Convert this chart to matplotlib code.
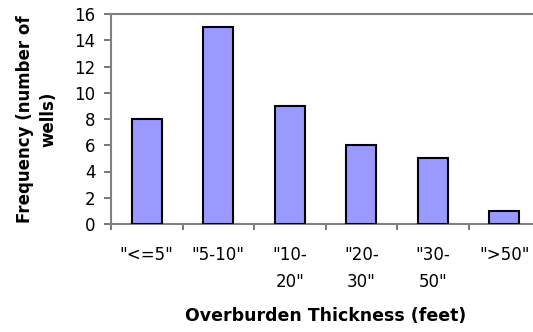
import matplotlib.pyplot as plt
import numpy as np

categories = ['"<=5"', '"5-10"', '"10-\n20"', '"20-\n30"', '"30-\n50"', '">50"']
frequency = [8, 15, 9, 6, 5, 1]
y_ticks = [0, 2, 4, 6, 8, 10, 12, 14, 16]

plt.rcParams['font.family'] = ['DejaVu Sans']

fig = plt.figure(figsize=(5.33, 3.32), dpi=100)
# axes runs slightly past the right edge, as in the original
ax = fig.add_axes([111 / 533, 1 - 224 / 332, 429 / 533, 210 / 332])

x = np.arange(len(categories))
ax.bar(x, frequency, width=0.42, color='#9999FF', edgecolor='black', linewidth=1.5, zorder=3)

ax.set_xlim(-0.5, len(categories) - 0.5)
ax.set_ylim(0, 16)
ax.set_yticks(y_ticks)
ax.set_yticklabels([str(v) for v in y_ticks], fontsize=12)

# category boundary ticks on x, labels centred under the bars
ax.set_xticks(np.arange(len(categories) + 1) - 0.5)
ax.set_xticklabels([])
ax.set_xticks(x, minor=True)
ax.set_xticklabels(categories, minor=True, fontsize=12, linespacing=1.6, va='top')
ax.tick_params(axis='x', which='minor', length=0, pad=16)
ax.tick_params(axis='x', which='major', length=4.5, width=1.2, color='#606060', direction='out')
ax.tick_params(axis='y', length=5, width=1.2, color='#606060', direction='out', pad=6)

for side in ['left', 'bottom', 'top']:
    ax.spines[side].set_color('#808080')
    ax.spines[side].set_linewidth(1.5)
ax.spines['right'].set_visible(False)

ax.set_ylabel('Frequency (number of\nwells)', fontsize=12, fontweight='bold', labelpad=12, linespacing=1.45)
ax.set_xlabel('Overburden Thickness (feet)', fontsize=12.5, fontweight='bold', labelpad=12)

fig.savefig('out.png', dpi=100)
